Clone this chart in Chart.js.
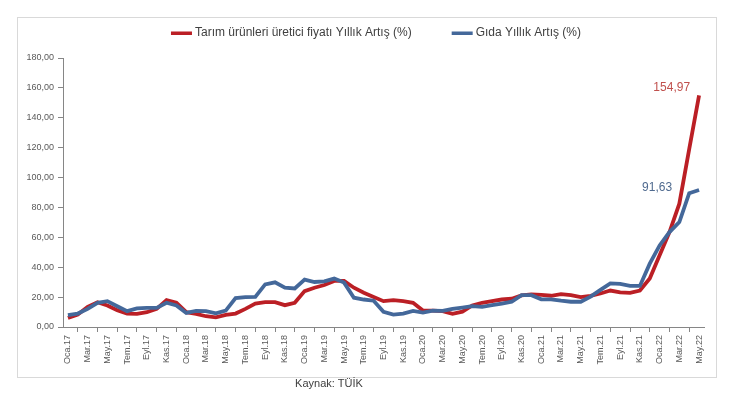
<!DOCTYPE html>
<html>
<head>
<meta charset="utf-8">
<script src="https://cdn.jsdelivr.net/npm/chart.js@4.4.1/dist/chart.umd.min.js"></script>
<style>
  html, body { margin: 0; padding: 0; background: #fff; }
  #wrap { width: 739px; height: 399px; }
</style>
</head>
<body>
<div id="wrap"><canvas id="myChart"></canvas></div>
<script>
const months = ['Oca', 'Şub', 'Mar', 'Nis', 'May', 'Haz', 'Tem', 'Ağu', 'Eyl', 'Eki', 'Kas', 'Ara'];
const years = ['17', '18', '19', '20', '21', '22'];
const categories = [];
years.forEach(y => months.forEach(m => categories.push(m + '.' + y)));
categories.length = 65; // Oca.17 - May.22

const tarimUfe = [
  6.1, 8.3, 13.5, 16.6, 14.4, 11.2, 9.0, 8.8, 9.9, 12.1, 18.0, 16.2,
  9.9, 8.8, 7.2, 6.5, 8.1, 9.0, 12.1, 15.7, 16.6, 16.6, 14.6, 16.2,
  24.0, 26.3, 28.1, 30.8, 30.8, 26.3, 22.9, 20.1, 17.3, 18.0, 17.3, 16.2,
  11.0, 11.0, 10.6, 8.8, 10.3, 14.4, 16.2, 17.3, 18.4, 18.9, 21.1, 21.8,
  21.5, 20.9, 22.0, 21.3, 20.0, 20.9, 22.4, 24.4, 23.1, 22.9, 24.4, 32.4,
  48.0, 63.5, 82.5, 119.0, 154.97
];
const gida = [
  7.9, 9.0, 12.1, 16.2, 17.3, 13.9, 10.6, 12.4, 12.8, 12.8, 16.2, 14.4,
  9.4, 10.8, 10.6, 9.2, 11.0, 19.3, 20.0, 20.2, 28.5, 29.9, 26.3, 25.8,
  31.7, 30.1, 30.6, 32.4, 29.7, 19.6, 18.4, 17.6, 10.2, 8.3, 9.0, 10.8,
  9.7, 11.0, 10.8, 12.1, 13.0, 13.9, 13.5, 14.6, 15.7, 16.9, 21.3, 21.3,
  18.5, 18.5, 17.6, 16.9, 16.9, 20.3, 24.8, 29.2, 28.8, 27.5, 27.5, 42.4,
  54.6, 63.5, 70.2, 89.5, 91.63
];
const seriesNames = ['Tarım ürünleri üretici fiyatı Yıllık Artış (%)', 'Gıda Yıllık Artış (%)'];
const yTicks = [0, 20, 40, 60, 80, 100, 120, 140, 160, 180];
const sourceText = 'Kaynak: TÜİK';

const RED = '#BB1F25';
const BLUE = '#44689A';
const FONT = "'Liberation Sans', Arial, sans-serif";

function fmt(v) {
  return v.toFixed(2).replace('.', ',');
}

// frame, legend and source note
const decor = {
  id: 'decor',
  beforeDraw(chart) {
    const c = chart.ctx;
    c.save();
    c.fillStyle = '#fff';
    c.fillRect(0, 0, chart.width, chart.height);
    c.strokeStyle = '#D9D9D9';
    c.lineWidth = 1;
    c.strokeRect(17.5, 17.5, 699, 360);
    c.restore();
  },
  afterDraw(chart) {
    const c = chart.ctx;
    c.save();
    c.font = '12px ' + FONT;
    c.textBaseline = 'middle';
    const ds = chart.data.datasets;
    const boxW = 21, gapText = 3, gapItem = 40;
    let total = 0;
    ds.forEach((d, i) => {
      total += boxW + gapText + c.measureText(d.label).width;
      if (i < ds.length - 1) total += gapItem;
    });
    let x = 376 - total / 2;
    const y = 33;
    ds.forEach(d => {
      c.fillStyle = d.borderColor;
      c.fillRect(x, y - 1.5, boxW, 3.5);
      x += boxW + gapText;
      c.fillStyle = '#404040';
      c.textAlign = 'left';
      c.fillText(d.label, x, y);
      x += c.measureText(d.label).width + gapItem;
    });
    c.font = '11px ' + FONT;
    c.textAlign = 'center';
    c.fillStyle = '#404040';
    c.fillText(sourceText, 329, 384);
    c.restore();
  },
  afterDatasetsDraw(chart) {
    const c = chart.ctx;
    c.save();
    c.font = '12px ' + FONT;
    c.textAlign = 'right';
    c.textBaseline = 'middle';
    const offs = [[-9, -8, '#C0504D'], [-27, -2, '#4F6A8F']];
    chart.data.datasets.forEach((d, i) => {
      const meta = chart.getDatasetMeta(i);
      const pt = meta.data[meta.data.length - 1];
      c.fillStyle = offs[i][2];
      c.fillText(fmt(d.data[d.data.length - 1]), pt.x + offs[i][0], pt.y + offs[i][1]);
    });
    c.restore();
  }
};

const ctx = document.getElementById('myChart');
new Chart(ctx, {
  type: 'line',
  data: {
    labels: categories,
    datasets: [{
      label: seriesNames[0],
      data: tarimUfe,
      borderColor: RED,
      backgroundColor: RED,
      borderWidth: 3.8,
      pointRadius: 0,
      tension: 0,
      order: 1
    }, {
      label: seriesNames[1],
      data: gida,
      borderColor: BLUE,
      backgroundColor: BLUE,
      borderWidth: 3.8,
      pointRadius: 0,
      tension: 0,
      order: 0
    }]
  },
  options: {
    responsive: true,
    maintainAspectRatio: false,
    animation: false,
    layout: { padding: { top: 58, left: 0, right: 35, bottom: 0 } },
    plugins: {
      legend: { display: false },
      tooltip: { enabled: false }
    },
    scales: {
      x: {
        offset: true,
        afterFit(scale) { scale.height = 72; },
        grid: {
          offset: true,
          drawOnChartArea: false,
          tickLength: 5,
          color: '#868686'
        },
        border: { color: '#868686' },
        ticks: {
          autoSkip: false,
          minRotation: 90,
          maxRotation: 90,
          padding: 3,
          color: '#595959',
          font: { family: FONT, size: 9 },
          callback(v, i) { return i % 2 === 0 ? categories[i] : null; }
        }
      },
      y: {
        min: 0,
        max: 180,
        afterFit(scale) { scale.width = 63; },
        afterBuildTicks(scale) { scale.ticks = yTicks.map(v => ({ value: v })); },
        grid: {
          drawOnChartArea: false,
          tickLength: 5,
          color: '#868686'
        },
        border: { color: '#868686' },
        ticks: {
          padding: 4,
          color: '#595959',
          font: { family: FONT, size: 9 },
          callback(v) { return fmt(v); }
        }
      }
    }
  },
  plugins: [decor]
});
</script>
</body>
</html>
